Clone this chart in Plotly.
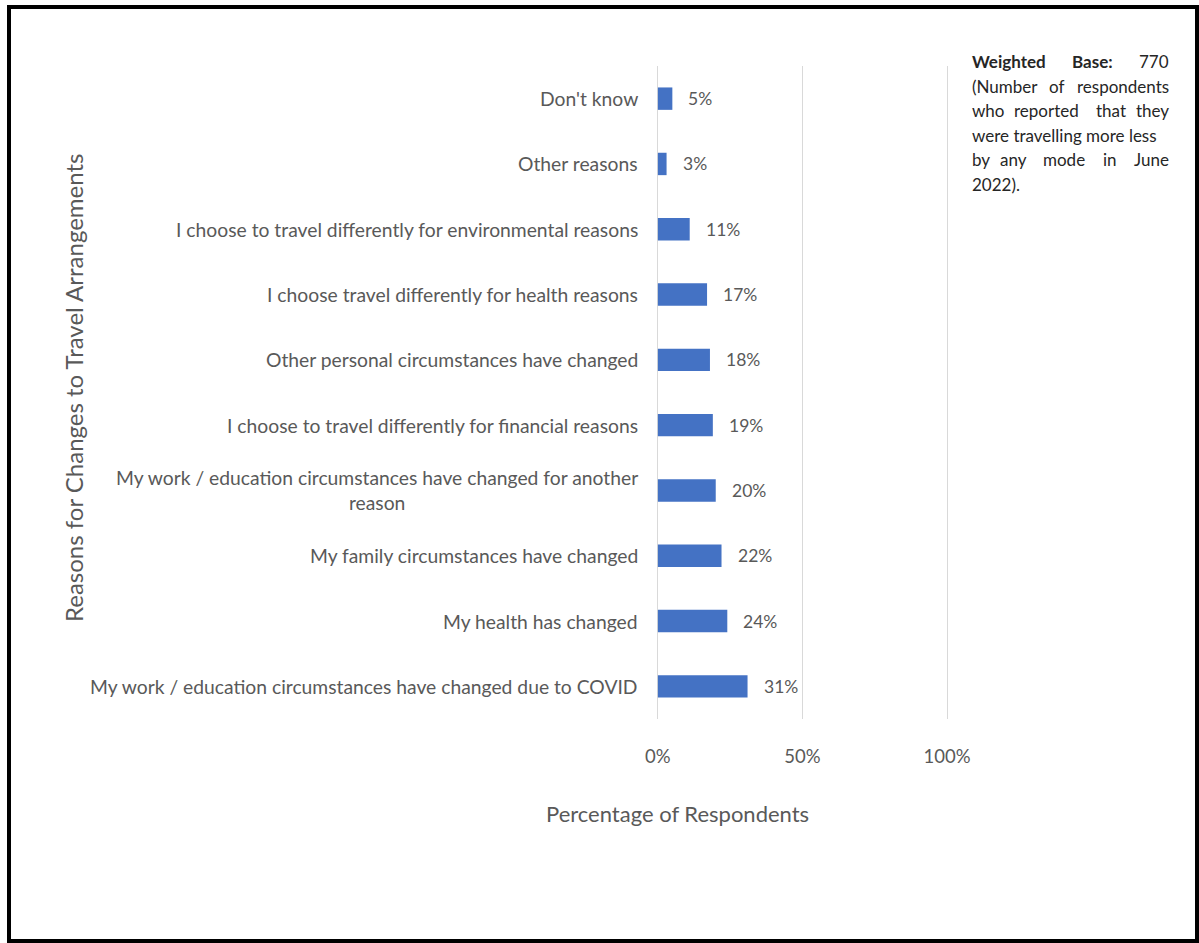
import plotly.graph_objects as go

# Reasons for changing travel arrangements, share of respondents
categories = [
    "My work / education circumstances have changed due to COVID",
    "My health has changed",
    "My family circumstances have changed",
    "My work / education circumstances have changed for another<br>reason",
    "I choose to travel differently for financial reasons",
    "Other personal circumstances have changed",
    "I choose travel differently for health reasons",
    "I choose to travel differently for environmental reasons",
    "Other reasons",
    "Don't know",
]
values = [0.31, 0.24, 0.22, 0.20, 0.19, 0.18, 0.17, 0.11, 0.03, 0.05]
x_ticks = [0, 0.5, 1.0]
x_tick_labels = ["0%", "50%", "100%"]

W, H = 1199, 943
PAD = 0.01  # keeps the 0% and 100% gridlines inside the plot area
X0_PX, X1_PX = 658, 947  # pixel positions of 0% and 100%
ML = round(X0_PX - PAD * (X1_PX - X0_PX))
MR = W - round(X1_PX + PAD * (X1_PX - X0_PX))
MT, MB = 66, 224
PW, PH = W - ML - MR, H - MT - MB

FONT = "Lato"
GREY = "#595959"
BLUE = "#4472C4"


def px(x):
    return (x - ML) / PW


def py(y):
    return (H - MB - y) / PH


idx = list(range(len(categories)))

fig = go.Figure()
fig.add_trace(go.Bar(
    x=values, y=idx, orientation="h",
    marker=dict(color=BLUE, line=dict(width=0)),
    hoverinfo="skip",
))

annotations = []
# category labels, centred line by line and right-aligned to the axis
for i, c in zip(idx, categories):
    annotations.append(dict(
        x=0, y=i, xref="x", yref="y", text=c, showarrow=False,
        xanchor="right", yanchor="middle", align="center", xshift=-18,
        font=dict(family=FONT, size=19.3, color=GREY),
    ))
# value labels beside each bar
for i, v in zip(idx, values):
    annotations.append(dict(
        x=v, y=i, xref="x", yref="y", text=f"{round(v * 100)}%",
        showarrow=False, xanchor="left", yanchor="middle", xshift=14,
        font=dict(family=FONT, size=17.5, color=GREY),
    ))

# axis titles
annotations.append(dict(
    x=px(73), y=py(388), xref="paper", yref="paper",
    text="Reasons for Changes to Travel Arrangements", textangle=-90,
    showarrow=False, xanchor="center", yanchor="middle",
    font=dict(family=FONT, size=24, color=GREY),
))
annotations.append(dict(
    x=px(677), y=py(813), xref="paper", yref="paper",
    text="Percentage of Respondents", showarrow=False,
    xanchor="center", yanchor="middle",
    font=dict(family=FONT, size=22, color=GREY),
))

# justified note block on the right
note_lines = [
    (61.7, [("<b>Weighted</b>", 970, "left"), ("<b>Base:</b>", 1070, "left"), ("770", 1171, "right")]),
    (86.0, [("(Number", 970, "left"), ("of", 1047, "left"), ("respondents", 1171, "right")]),
    (110.7, [("who", 970, "left"), ("reported", 1012, "left"), ("that", 1094, "left"), ("they", 1171, "right")]),
    (135.0, [("were travelling more less", 970, "left")]),
    (159.3, [("by", 970, "left"), ("any", 998, "left"), ("mode", 1041, "left"), ("in", 1101, "left"), ("June", 1171, "right")]),
    (184.0, [("2022).", 970, "left")]),
]
for yy, words in note_lines:
    for w, xx, anchor in words:
        annotations.append(dict(
            x=px(xx), y=py(yy), xref="paper", yref="paper", text=w,
            showarrow=False, xanchor=anchor, yanchor="middle",
            font=dict(family=FONT, size=17, color="#262626"),
        ))

# outer frame
shapes = [dict(
    type="rect", xref="paper", yref="paper",
    x0=px(9), x1=px(1197), y0=py(941), y1=py(7),
    line=dict(color="black", width=4), fillcolor="rgba(0,0,0,0)",
    layer="below",
)]

fig.update_layout(
    width=W, height=H,
    margin=dict(l=ML, r=MR, t=MT, b=MB, autoexpand=False),
    paper_bgcolor="white", plot_bgcolor="white",
    showlegend=False, bargap=0.657,
    annotations=annotations, shapes=shapes,
    font=dict(family=FONT, color=GREY),
)
fig.update_xaxes(
    range=[-PAD, 1 + PAD], tickvals=x_ticks, ticktext=x_tick_labels,
    showgrid=True, gridcolor="#D9D9D9", gridwidth=1,
    zeroline=False, showline=False, ticks="",
    ticklabelstandoff=24,
    tickfont=dict(family=FONT, size=18.5, color=GREY),
    fixedrange=True,
)
fig.update_yaxes(
    range=[-0.5, len(categories) - 0.5], tickvals=idx,
    showticklabels=False, showgrid=False, zeroline=False, showline=False,
    ticks="", fixedrange=True,
)

fig.write_html("out.html")
